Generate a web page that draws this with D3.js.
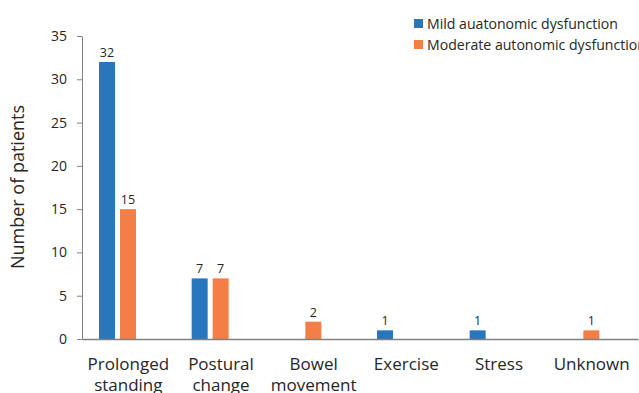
<!DOCTYPE html>
<html><head><meta charset="utf-8">
<script src="https://cdn.jsdelivr.net/npm/d3@7"></script>
<style>body{margin:0;background:#fff}svg{display:block}text{font-family:"Open Sans",sans-serif;fill:#262626}</style>
</head><body><svg id="c" width="639" height="393"></svg>
<script>
const categories = [["Prolonged","standing"],["Postural","change"],["Bowel","movement"],["Exercise"],["Stress"],["Unknown"]];
const seriesNames = ["Mild auatonomic dysfunction","Moderate autonomic dysfunction"];
const mild = [32,7,0,1,1,0];
const moderate = [15,7,2,0,0,1];
const yTicks = [0,5,10,15,20,25,30,35];
const colors = ["#2776BE","#F47F46"];

const svg = d3.select("#c");
const catKeys = categories.map(d=>d.join(" "));
const x = d3.scaleBand().domain(catKeys).range([82,638]);
const xs = d3.scaleBand().domain(seriesNames).range([17,54]).paddingInner(0.238);
const y = d3.scaleLinear().domain([0,35]).range([339,36]);

const yAxis = svg.append("g").attr("transform","translate(82,0)")
  .call(d3.axisLeft(y).tickValues(yTicks).tickSize(5).tickSizeOuter(0).tickPadding(10));
yAxis.select(".domain").attr("stroke","#808080");
yAxis.selectAll(".tick line").attr("stroke","#808080");
yAxis.selectAll(".tick text").style("font-size","14px").attr("fill","#262626").style("font-family","'Open Sans',sans-serif");

const data = [mild, moderate];
data.forEach((vals,si)=>{
  const g = svg.append("g");
  vals.forEach((v,i)=>{
    if(v===0) return;
    const bx = x(catKeys[i]) + xs(seriesNames[si]);
    g.append("rect").attr("x",bx).attr("y",y(v)).attr("width",xs.bandwidth()).attr("height",y(0)-y(v))
      .attr("fill",colors[si]);
    g.append("text").attr("x",bx+xs.bandwidth()/2).attr("y",y(v)-5).attr("text-anchor","middle")
      .style("font-size","12.5px").text(v);
  });
});

const xAxis = svg.append("g").attr("transform","translate(0,339)")
  .call(d3.axisBottom(x).tickSize(0).tickFormat(""));
xAxis.select(".domain").attr("stroke","#808080").attr("stroke-width",1.3);
catKeys.forEach((k,i)=>{
  const t = svg.append("text").attr("x",x(k)+x.bandwidth()/2).attr("y",370).attr("text-anchor","middle").style("font-size","17px");
  categories[i].forEach((line,j)=>t.append("tspan").attr("x",x(k)+x.bandwidth()/2).attr("dy",j?21:0).text(line));
});

svg.append("text").attr("transform","translate(24,187) rotate(-90)").attr("text-anchor","middle")
  .style("font-size","18px").text("Number of patients");

const leg = svg.append("g");
seriesNames.forEach((s,i)=>{
  leg.append("rect").attr("x",414).attr("y",19+i*21).attr("width",9).attr("height",9).attr("fill",colors[i]);
  leg.append("text").attr("x",427).attr("y",28.5+i*21).style("font-size","14.1px").text(s);
});
</script></body></html>
